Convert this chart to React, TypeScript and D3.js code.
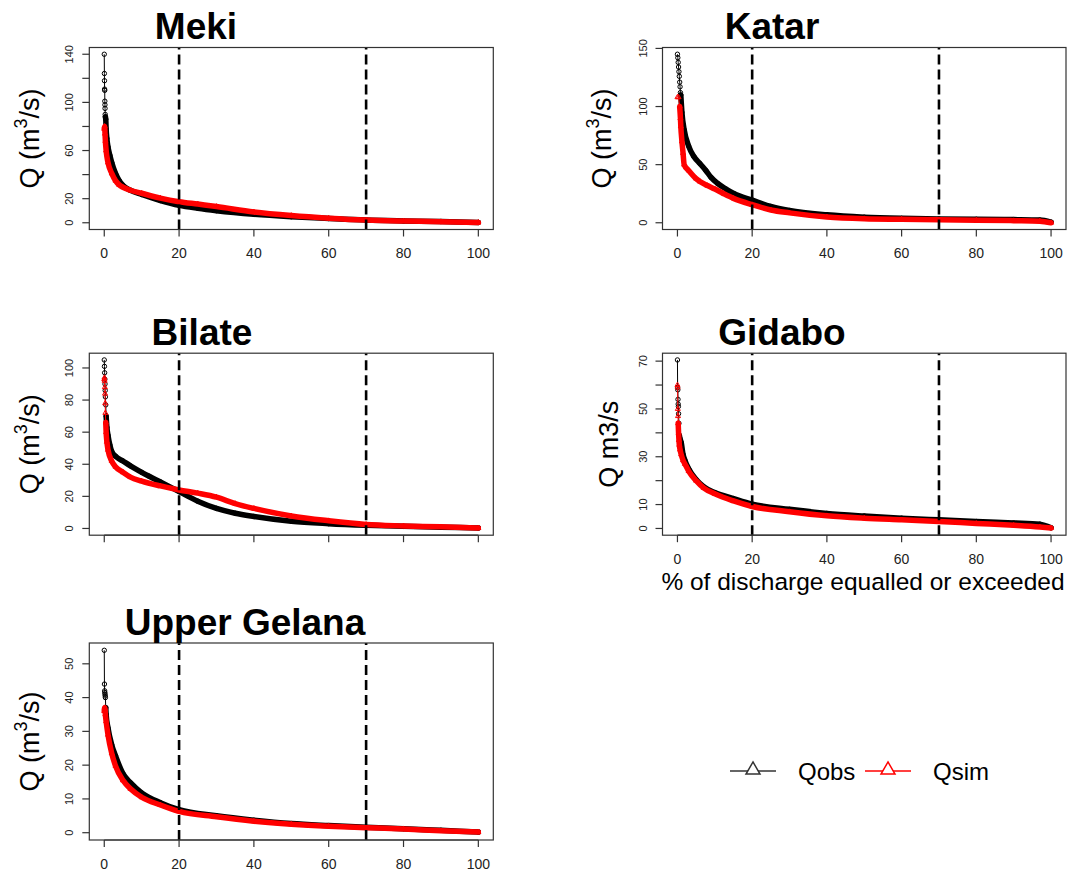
import React from "react";
import * as d3 from "d3";

type Pt = [number, number];

// x: % of time discharge equalled or exceeded, y: Q (m3/s)
const pctTicks = [0, 20, 40, 60, 80, 100];
const refLines = [20, 70];

const mekiObs: Pt[] = [[0,140],[0.03,124],[0.06,118],[0.09,111],[0.12,110],[0.15,101],[0.18,98],[0.21,95],[0.25,90],[0.3,88],[0.4,86],[0.5,78],[0.7,70],[1,63],[1.5,56],[2,50],[3,41],[4,35],[5,31],[7,27],[10,23.5],[15,18.5],[20,14.5],[25,12],[30,10],[40,7],[50,5],[60,3.5],[70,2.2],[80,1.5],[90,1],[100,0.3]];
const mekiSim: Pt[] = [[0,78],[0.1,80],[0.2,74],[0.3,68],[0.5,60],[1,50],[2,41],[3,35],[4,31.5],[5,29.5],[7,27],[10,24.5],[15,20.5],[20,17.5],[25,15.5],[30,13.5],[40,9],[50,6],[60,3.8],[70,2.2],[80,1.4],[90,0.9],[100,0.3]];

const katarObs: Pt[] = [[0,145],[0.1,142],[0.2,138],[0.3,134],[0.4,130],[0.5,126],[0.6,121],[0.7,117],[0.8,112],[0.9,110],[1.2,95],[1.8,80],[3,66],[4.4,57],[6,51],[7.6,45],[9,39],[10.7,34],[13,29],[15.2,25],[20,19.5],[25,14],[30,10.5],[40,6.8],[50,4.8],[60,3.8],[70,3.3],[80,3],[90,2.7],[97,2.3],[100,0.5]];
const katarSim: Pt[] = [[0,108],[0.3,108],[0.6,100],[0.8,90],[0.9,83],[1.2,70],[1.5,60],[1.8,50],[3,45],[5,38],[6,35.5],[8,32],[10,29],[12.4,25],[15,21],[20,15.5],[25,11],[30,8.5],[40,5],[50,3.5],[60,3],[70,2.6],[80,2.2],[90,1.8],[97,1.4],[100,0]];

const bilateObs: Pt[] = [[0,105],[0.05,101],[0.1,97],[0.15,93],[0.2,90],[0.25,86],[0.3,82],[0.4,77],[0.5,70],[0.7,63],[1,58],[1.5,52],[2,48],[3,45],[5,42],[7,39],[10,35],[12,32.5],[15,29],[20,23],[25,17],[30,12.5],[35,9.5],[40,7.5],[50,4.5],[60,3],[70,2],[80,1.3],[90,0.8],[100,0.3]];
const bilateSim: Pt[] = [[0,93],[0.05,94],[0.1,92],[0.15,88],[0.2,84],[0.25,78],[0.3,72],[0.4,66],[0.5,60],[0.7,54],[1,49],[2,42],[3,38.5],[5,35],[7,32],[10,29.5],[15,26.5],[20,24],[25,22],[30,19.5],[35,15.5],[40,12.5],[50,7.8],[60,4.8],[70,2.5],[80,1.6],[90,1],[100,0.3]];

const gidaboObs: Pt[] = [[0,70.5],[0.05,59],[0.1,58],[0.15,54],[0.2,52],[0.25,51],[0.3,48],[0.4,44],[0.5,39],[0.7,37.5],[1,36],[1.5,31],[2,28.5],[3,25],[5,20.5],[7,17.5],[10,15],[15,12.5],[20,10.2],[30,8],[40,6.3],[50,5.2],[60,4.3],[70,3.6],[80,2.9],[90,2.3],[97,1.8],[100,0.3]];
const gidaboSim: Pt[] = [[0,60],[0.05,59],[0.1,50],[0.15,47],[0.2,44],[0.3,40],[0.4,37],[0.5,35],[0.7,33],[1,31],[1.5,28.5],[2,27],[3,24],[5,20],[7,17],[10,14.5],[15,11.5],[20,9.2],[30,7],[40,5.3],[50,4.3],[60,3.6],[70,2.9],[80,2.1],[90,1.3],[97,0.6],[100,0.2]];

const gelanaObs: Pt[] = [[0,54],[0.05,44],[0.1,42],[0.15,41.5],[0.2,41],[0.25,40.5],[0.3,40],[0.4,37],[0.5,35],[1,31],[2,26],[3,22.8],[5,17.5],[7,14.8],[10,11.8],[15,8.9],[20,6.8],[30,5],[40,3.7],[50,2.7],[60,2.1],[70,1.6],[80,1.2],[90,0.7],[100,0.2]];
const gelanaSim: Pt[] = [[0,36],[0.1,37],[0.2,36.5],[0.3,35],[0.5,33],[1,29],[2,23.5],[3,19.8],[5,15.5],[7,13],[10,10.5],[15,8.2],[20,6.3],[30,4.7],[40,3.4],[50,2.5],[60,1.9],[70,1.5],[80,1.1],[90,0.6],[100,0.2]];

const mekiYTicks = [0, 20, 40, 60, 80, 100, 120, 140];
const mekiYLabels = [0, 20, 60, 100, 140];
const katarYTicks = [0, 50, 100, 150];
const bilateYTicks = [0, 20, 40, 60, 80, 100];
const gidaboYTicks = [0, 10, 20, 30, 40, 50, 60, 70];
const gidaboYLabels = [0, 10, 30, 50, 70];
const gelanaYTicks = [0, 10, 20, 30, 40, 50];

const legendLabels = ["Qobs", "Qsim"];
const seriesColors = ["#000000", "#ff0000"];

const FONT = "'Liberation Sans', Arial, Helvetica, sans-serif";

interface PanelCfg {
  title: string;
  titleX: number;
  titleY: number;
  left: number;
  right: number;
  top: number;
  bottom: number;
  yMax: number;
  yTicks: number[];
  yLabels: number[];
  showX: boolean;
  unitsSup: boolean;
  yLabOff: number;
  obs: Pt[];
  sim: Pt[];
  obsBand: number;
  simBand: number;
}

const L = { left: 89.3, right: 493.3 };
const R = { left: 662.5, right: 1066 };

const panels: PanelCfg[] = [
  { title: "Meki", titleX: 196, titleY: 39, ...L, top: 47.5, bottom: 229.5, yMax: 140, yTicks: mekiYTicks, yLabels: mekiYLabels, showX: true, unitsSup: true, yLabOff: 50, obs: mekiObs, sim: mekiSim, obsBand: 0.3, simBand: 0 },
  { title: "Katar", titleX: 772, titleY: 39, ...R, top: 47.5, bottom: 229.5, yMax: 145, yTicks: katarYTicks, yLabels: katarYTicks, showX: true, unitsSup: true, yLabOff: 52, obs: katarObs, sim: katarSim, obsBand: 0.9, simBand: 0.5 },
  { title: "Bilate", titleX: 202, titleY: 345, ...L, top: 353.2, bottom: 535.2, yMax: 105, yTicks: bilateYTicks, yLabels: bilateYTicks, showX: false, unitsSup: true, yLabOff: 50, obs: bilateObs, sim: bilateSim, obsBand: 0.5, simBand: 0.4 },
  { title: "Gidabo", titleX: 782, titleY: 345, ...R, top: 353.2, bottom: 535.2, yMax: 70.5, yTicks: gidaboYTicks, yLabels: gidaboYLabels, showX: true, unitsSup: false, yLabOff: 45, obs: gidaboObs, sim: gidaboSim, obsBand: 0.5, simBand: 0.2 },
  { title: "Upper Gelana", titleX: 245, titleY: 635, ...L, top: 643, bottom: 840, yMax: 54, yTicks: gelanaYTicks, yLabels: gelanaYTicks, showX: true, unitsSup: true, yLabOff: 50, obs: gelanaObs, sim: gelanaSim, obsBand: 0.4, simBand: 0 },
];

function triPath(cx: number, cy: number, s: number) {
  const h = s * 0.866;
  return `M${cx},${cy - h * 0.66}L${cx + s / 2},${cy + h * 0.34}L${cx - s / 2},${cy + h * 0.34}Z`;
}

function Series({ data, band, color, x, y, marker }: { data: Pt[]; band: number; color: string; x: any; y: any; marker: "circle" | "tri" }) {
  const thin = d3.line<Pt>().x((d) => x(d[0])).y((d) => y(d[1]));
  const thick = d3
    .line<Pt>()
    .x((d) => x(d[0]))
    .y((d) => y(d[1]))
    .curve(d3.curveMonotoneX);
  const bandPts = data.filter((d) => d[0] >= band);
  return (
    <g>
      <path d={thin(data) || ""} fill="none" stroke={color} strokeWidth={1} />
      {data.map((d, i) =>
        marker === "circle" ? (
          <circle key={i} cx={x(d[0])} cy={y(d[1])} r={2.2} fill="none" stroke={color} strokeWidth={1} />
        ) : (
          <path key={i} d={triPath(x(d[0]), y(d[1]), 5)} fill="none" stroke={color} strokeWidth={1} />
        )
      )}
      <path d={thick(bandPts) || ""} fill="none" stroke={color} strokeWidth={5.5} strokeLinejoin="round" strokeLinecap="round" />
    </g>
  );
}

function Panel({ p }: { p: PanelCfg }) {
  const x = d3.scaleLinear().domain([-4, 104]).range([p.left, p.right]);
  const y = d3.scaleLinear().domain([-0.04 * p.yMax, 1.04 * p.yMax]).range([p.bottom, p.top]);
  const cy = (p.top + p.bottom) / 2;
  const ylx = p.left - p.yLabOff;
  return (
    <g>
      <Series data={p.obs} band={p.obsBand} color={seriesColors[0]} x={x} y={y} marker="circle" />
      <Series data={p.sim} band={p.simBand} color={seriesColors[1]} x={x} y={y} marker="tri" />
      {refLines.map((v) => (
        <line key={v} x1={x(v)} x2={x(v)} y1={p.bottom} y2={p.top} stroke="#000" strokeWidth={2.6} strokeDasharray="10,5" />
      ))}
      <rect x={p.left} y={p.top} width={p.right - p.left} height={p.bottom - p.top} fill="none" stroke="#333" strokeWidth={1.2} />
      <line x1={x(pctTicks[0])} x2={x(pctTicks[pctTicks.length - 1])} y1={p.bottom} y2={p.bottom} stroke="#333" strokeWidth={1.2} />
      {pctTicks.map((t) => (
        <g key={t}>
          <line x1={x(t)} x2={x(t)} y1={p.bottom} y2={p.bottom + 7} stroke="#333" strokeWidth={1.2} />
          {p.showX && (
            <text x={x(t)} y={p.bottom + 28.5} textAnchor="middle" fontSize={14} fontFamily={FONT} fill="#222">
              {t}
            </text>
          )}
        </g>
      ))}
      {p.yTicks.map((t) => (
        <g key={t}>
          <line x1={p.left - 7} x2={p.left} y1={y(t)} y2={y(t)} stroke="#333" strokeWidth={1.2} />
          {p.yLabels.includes(t) && (
            <text transform={`translate(${p.left - 16},${y(t)}) rotate(-90)`} textAnchor="middle" fontSize={11} fontFamily={FONT} fill="#222">
              {t}
            </text>
          )}
        </g>
      ))}
      {p.unitsSup ? (
        <text transform={`translate(${ylx},${cy}) rotate(-90)`} textAnchor="middle" fontSize={27} fontFamily={FONT} fill="#000">
          <tspan>Q (m</tspan>
          <tspan fontSize={18} dy={-12}>3</tspan>
          <tspan dy={12}>/s)</tspan>
        </text>
      ) : (
        <text transform={`translate(${ylx},${cy}) rotate(-90)`} textAnchor="middle" fontSize={27} fontFamily={FONT} fill="#000">
          Q m3/s
        </text>
      )}
      <text x={p.titleX} y={p.titleY} textAnchor="middle" fontSize={37} fontWeight="bold" fontFamily={FONT} fill="#000">
        {p.title}
      </text>
    </g>
  );
}

export default function App() {
  const legendY = 771;
  const legendItems = [
    { x0: 730, x1: 776, tx: 798 },
    { x0: 865, x1: 911, tx: 933 },
  ];
  return (
    <svg width={1075} height={870} style={{ position: "absolute", left: 0, top: 0, background: "#fff" }}>
      <rect width={1075} height={870} fill="#fff" />
      {panels.map((p) => (
        <Panel key={p.title} p={p} />
      ))}
      <text x={863} y={590} textAnchor="middle" fontSize={24.5} fontFamily={FONT} fill="#000">
        % of discharge equalled or exceeded
      </text>
      {legendItems.map((it, i) => (
        <g key={i}>
          <line x1={it.x0} x2={it.x1} y1={legendY} y2={legendY} stroke={i === 0 ? "#333" : seriesColors[1]} strokeWidth={1.3} />
          <path d={triPath((it.x0 + it.x1) / 2, legendY - 1, 14)} fill="#fff" stroke={i === 0 ? "#333" : seriesColors[1]} strokeWidth={1.5} />
          <text x={it.tx} y={legendY + 9} fontSize={24} fontFamily={FONT} fill="#000">
            {legendLabels[i]}
          </text>
        </g>
      ))}
    </svg>
  );
}
